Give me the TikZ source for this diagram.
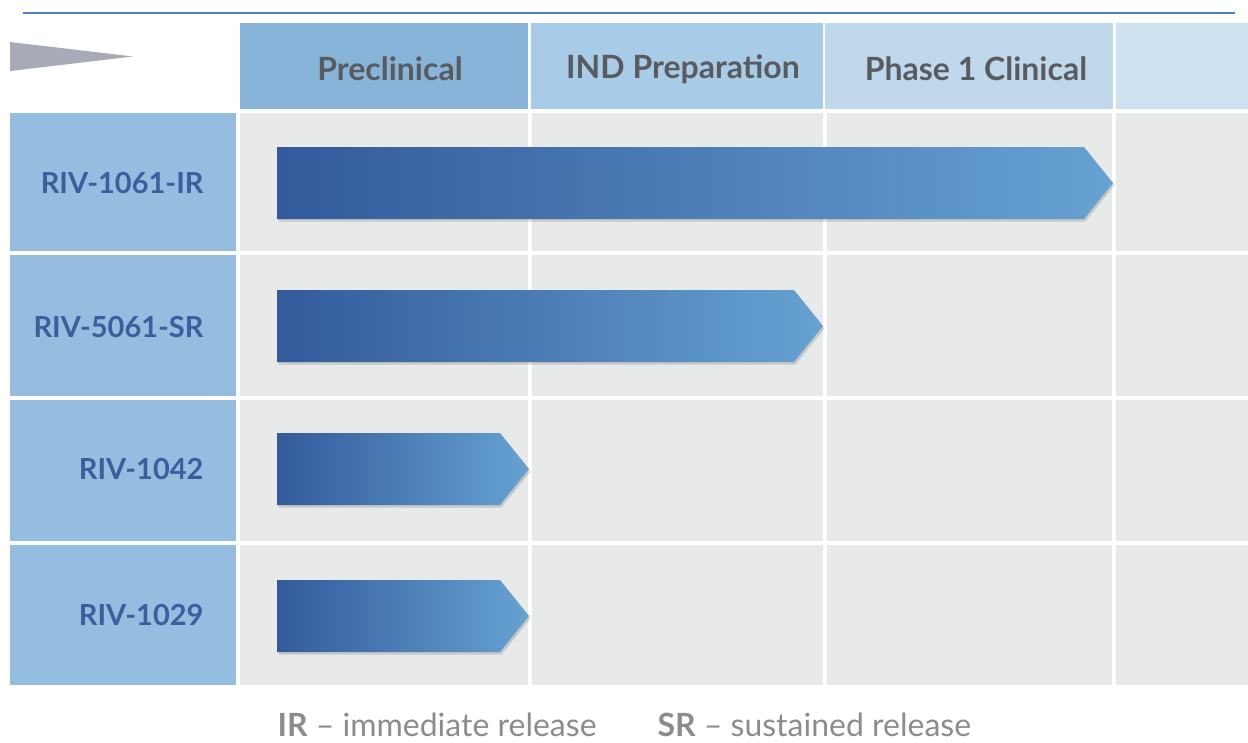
\documentclass[tikz,border=0pt]{standalone}
\usepackage{fontspec}
\setmainfont{Lato}
\usetikzlibrary{shadows}
\definecolor{topline}{HTML}{4F7DBE}
\definecolor{tri}{HTML}{A7AAB7}
\definecolor{hA}{HTML}{88B4DA}
\definecolor{hB}{HTML}{A8CBE7}
\definecolor{hC}{HTML}{C0D8EC}
\definecolor{hD}{HTML}{CFE2F1}
\definecolor{lab}{HTML}{95BDDF}
\definecolor{cellg}{HTML}{E8EAEA}
\definecolor{labtxt}{HTML}{3D5E9E}
\definecolor{hdrtxt}{HTML}{595B5E}
\definecolor{foot}{HTML}{8C8C8C}
\definecolor{arL}{HTML}{335A9B}
\definecolor{arR}{HTML}{66A2D2}
\tikzset{
  cellbox/.style={rectangle, anchor=north west, inner sep=0pt, outer sep=0pt, draw=none},
  hdrtext/.style={font=\fontsize{32}{38}\selectfont\bfseries, text=hdrtxt},
  labtext/.style={font=\fontsize{29}{34}\selectfont\bfseries, text=labtxt, anchor=east},
  bar/.style={left color=arL, right color=arR, draw=none,
    drop shadow={shadow xshift=1.5pt, shadow yshift=-2.5pt, opacity=0.25, fill=black!60}},
  foottext/.style={font=\fontsize{32}{36}\selectfont, text=foot, anchor=base west}
}
\begin{document}
\begin{tikzpicture}[x=1pt,y=-1pt]
\useasboundingbox (0,0) rectangle (1248,742);
% top rule
\draw[topline, line width=1.6pt] (23,13) -- (1235,13);
% gray triangle
\fill[tri] (10,42) -- (133,56.5) -- (10,71) -- cycle;
% header cells
\node[cellbox, fill=hA, minimum width=288, minimum height=86] (h1) at (240,23) {};
\node[cellbox, fill=hB, minimum width=292, minimum height=86] (h2) at (531,23) {};
\node[cellbox, fill=hC, minimum width=288, minimum height=86] (h3) at (825,23) {};
\node[cellbox, fill=hD, minimum width=135, minimum height=86] (h4) at (1116,23) {};
\node[hdrtext] (t1) at ([xshift=6pt,yshift=-3pt]h1.center) {Preclinical};
\node[hdrtext] (t2) at ([xshift=6pt,yshift=-3pt]h2.center) {IND Preparation};
\node[hdrtext] (t3) at ([xshift=7pt,yshift=-3pt]h3.center) {Phase 1 Clinical};
% rows
\foreach \i/\y/\h in {1/113/138, 2/255/141, 3/400/141, 4/545/140}{
  \node[cellbox, fill=lab, minimum width=226, minimum height=\h] (l\i) at (10,\y) {};
  \node[cellbox, fill=cellg, minimum width=288, minimum height=\h] (a\i) at (240,\y) {};
  \node[cellbox, fill=cellg, minimum width=291, minimum height=\h] (b\i) at (532,\y) {};
  \node[cellbox, fill=cellg, minimum width=285, minimum height=\h] (c\i) at (827,\y) {};
  \node[cellbox, fill=cellg, minimum width=135, minimum height=\h] (d\i) at (1116,\y) {};
}
\node[labtext] (n1) at (207,183) {RIV-1061-IR};
\node[labtext] (n2) at (207,327) {RIV-5061-SR};
\node[labtext] (n3) at (207,469) {RIV-1042};
\node[labtext] (n4) at (207,615) {RIV-1029};
% bars
\path[bar] (277,147) -- (1084,147) -- (1113,183) -- (1084,219) -- (277,219) -- cycle;
\path[bar] (277,290) -- (794,290) -- (823,326) -- (794,362) -- (277,362) -- cycle;
\path[bar] (277,433) -- (500,433) -- (529,469) -- (500,505) -- (277,505) -- cycle;
\path[bar] (277,580) -- (500,580) -- (529,616) -- (500,652) -- (277,652) -- cycle;
% footer
\node[foottext] (f1) at (274,736) {\textbf{IR} -- immediate release};
\node[foottext] (f2) at (654,736) {\textbf{SR} -- sustained release};
\end{tikzpicture}
\end{document}
